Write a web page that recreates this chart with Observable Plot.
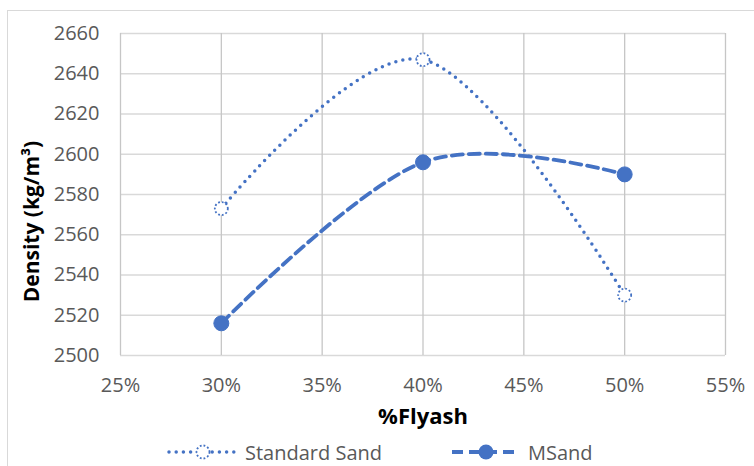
<!DOCTYPE html>
<html><head><meta charset="utf-8">
<script src="https://cdn.jsdelivr.net/npm/d3@7"></script>
<script src="https://cdn.jsdelivr.net/npm/@observablehq/plot@0.6"></script>
<style>
body{margin:0;background:#fff;font-family:"Open Sans",sans-serif;overflow:hidden;}
#frame{position:absolute;left:7px;top:10px;width:800px;height:500px;border:1px solid #d9d9d9;box-sizing:border-box;}
#chart{position:absolute;left:0;top:0;}
#legend{position:absolute;top:438px;left:0;width:754px;height:28px;font-size:20px;color:#595959;}
.item{position:absolute;top:0;display:flex;align-items:center;height:28px;}
.item svg{margin-right:6px;}
</style></head><body>
<div id="frame"></div><div id="chart"></div><div id="legend"></div>
<script>
const flyash = [0.30, 0.40, 0.50];
const standardSand = [2573, 2647, 2530];
const mSand = [2516, 2596, 2590];
const xTicks = [0.25, 0.30, 0.35, 0.40, 0.45, 0.50, 0.55];
const yTicks = [2500, 2520, 2540, 2560, 2580, 2600, 2620, 2640, 2660];
const seriesNames = ["Standard Sand", "MSand"];
const xTitle = "%Flyash";
const yTitle = "Density (kg/m³)";

const blue = "#4472C4";
const rows = [];
flyash.forEach((f, i) => {
  rows.push({x: f, y: standardSand[i], s: seriesNames[0]});
  rows.push({x: f, y: mSand[i], s: seriesNames[1]});
});
const std = rows.filter(d => d.s === seriesNames[0]);
const ms = rows.filter(d => d.s === seriesNames[1]);
const smooth = d3.curveCardinal.tension(0);

const chart = Plot.plot({
  width: 754, height: 430,
  marginLeft: 120, marginRight: 29, marginTop: 33, marginBottom: 75,
  style: {fontFamily: "'Open Sans', sans-serif", background: "transparent"},
  x: {domain: [0.25, 0.55], ticks: xTicks},
  y: {domain: [2500, 2660], ticks: yTicks},
  marks: [
    Plot.gridY(yTicks, {stroke: "#d9d9d9", strokeOpacity: 1, strokeWidth: 1.3}),
    Plot.gridX(xTicks, {stroke: "#c6c6c6", strokeOpacity: 1, strokeWidth: 1.3}),
    Plot.axisY(yTicks, {tickSize: 0, tickPadding: 21, fontSize: 20, fill: "#595959", label: null, tickFormat: d3.format("d")}),
    Plot.axisX(xTicks, {tickSize: 0, tickPadding: 22, fontSize: 20, fill: "#595959", label: null, tickFormat: d3.format(".0%")}),
    Plot.line(std, {x: "x", y: "y", stroke: blue, strokeWidth: 3.5, strokeDasharray: "0 7.2", strokeLinecap: "round", curve: smooth}),
    Plot.line(ms, {x: "x", y: "y", stroke: blue, strokeWidth: 3.8, strokeDasharray: "11 6", curve: smooth}),
    Plot.dot(std, {x: "x", y: "y", r: 6.5, fill: "white", stroke: blue, strokeWidth: 1.8, strokeDasharray: "1.8 2"}),
    Plot.dot(ms, {x: "x", y: "y", r: 7.5, fill: blue, stroke: blue, strokeWidth: 1}),
    Plot.text([xTitle], {frameAnchor: "bottom", lineAnchor: "middle", dy: 61, text: d => d, fontSize: 22, fontWeight: "bold", fill: "#000"}),
    Plot.text([yTitle], {frameAnchor: "left", textAnchor: "middle", lineAnchor: "middle", dx: -88, dy: 27, rotate: -90, text: d => d, fontSize: 21, fontWeight: "bold", fill: "#000"})
  ]
});
document.getElementById("chart").appendChild(chart);

const legend = document.getElementById("legend");
function addItem(name, left, kind) {
  const div = document.createElement("div");
  div.className = "item";
  div.style.left = left + "px";
  const svg = d3.create("svg").attr("width", 72).attr("height", 20);
  const line = svg.append("line").attr("x1", 2).attr("x2", 70).attr("y1", 10).attr("y2", 10).attr("stroke", blue);
  if (kind === "dot") {
    line.attr("stroke-width", 3.5).attr("stroke-dasharray", "0 7.2").attr("stroke-linecap", "round");
    svg.append("circle").attr("cx", 36).attr("cy", 10).attr("r", 6.5).attr("fill", "white").attr("stroke", blue).attr("stroke-width", 1.8).attr("stroke-dasharray", "1.8 2");
  } else {
    line.attr("stroke-width", 3.8).attr("stroke-dasharray", "11 6");
    svg.append("circle").attr("cx", 36).attr("cy", 10).attr("r", 7.5).attr("fill", blue);
  }
  div.appendChild(svg.node());
  const span = document.createElement("span");
  span.textContent = name;
  div.appendChild(span);
  legend.appendChild(div);
}
addItem(seriesNames[0], 167, "dot");
addItem(seriesNames[1], 450, "dash");
</script>
</body></html>
